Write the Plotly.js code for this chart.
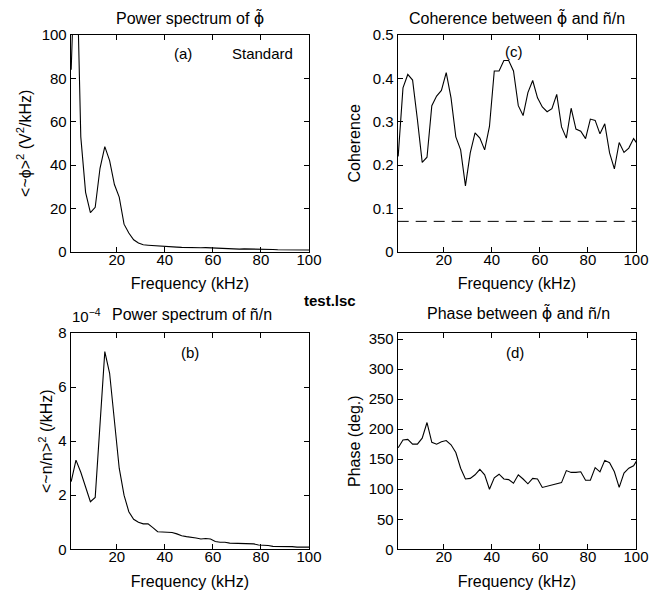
<!DOCTYPE html>
<html>
<head>
<meta charset="utf-8">
<script src="https://cdn.plot.ly/plotly-3.0.1.min.js"></script>
<style>html,body{margin:0;padding:0;background:#fff;}#chart{width:665px;height:596px;}</style>
</head>
<body>
<div id="chart"></div>
<script>
// Frequency bins (kHz)
const freq = [1,3,5,7,9,11,13,15,17,19,21,23,25,27,29,31,33,35,37,39,41,43,45,47,49,51,53,55,57,59,61,63,65,67,69,71,73,75,77,79,81,83,85,87,89,91,93,95,97,99,101];
// (a) Power spectrum of phi (V^2/kHz)
const phiPower = [84,150,53,27.4,18,20.5,38.5,48.5,42,31,25.2,12.7,8.6,5.5,4,3.2,3.0,2.8,2.7,2.6,2.4,2.2,2.1,2.0,1.9,1.8,1.8,1.8,1.9,1.8,1.5,1.4,1.4,1.3,1.3,1.2,1.3,1.3,1.2,1.1,1.1,1.0,1.0,0.9,0.9,0.9,0.8,0.8,0.8,0.8,0.8];
// (b) Power spectrum of n/n (units of 1e-4 /kHz)
const nPower = [2.5,3.3,2.85,2.34,1.76,1.92,4.62,7.31,6.51,4.84,3.0,2.0,1.39,1.11,1.0,0.94,0.94,0.8,0.65,0.64,0.64,0.62,0.57,0.5,0.47,0.45,0.42,0.38,0.40,0.38,0.29,0.26,0.26,0.23,0.22,0.21,0.2,0.2,0.2,0.16,0.16,0.14,0.11,0.11,0.12,0.11,0.1,0.08,0.07,0.08,0.08];
// (c) Coherence
const coherence = [0.22,0.378,0.409,0.396,0.305,0.206,0.218,0.337,0.359,0.372,0.413,0.355,0.265,0.235,0.152,0.228,0.274,0.262,0.235,0.289,0.417,0.417,0.441,0.441,0.417,0.337,0.314,0.367,0.395,0.355,0.334,0.323,0.330,0.363,0.288,0.262,0.331,0.283,0.278,0.261,0.306,0.303,0.272,0.295,0.228,0.191,0.252,0.229,0.239,0.261,0.245];
// Coherence significance level
const threshFreq = [0.8, 100];
const threshLevel = [0.07, 0.07];
// (d) Phase (deg.)
const phase = [169,182,183,175,175,185,211,178,175,179,181,174,161,135,117,118,124,133,124,100,119,125,117,116,110,124,117,109,118,117,103,105,106,109,111,131,128,128,129,115,115,136,129,148,144,129,103,127,135,139,152];

const xTicks = [20,40,60,80,100];
const yTicksA = [0,20,40,60,80,100];
const yTicksB = [0,2,4,6,8];
const yTicksC = [0,0.1,0.2,0.3,0.4,0.5];
const yTicksD = [0,50,100,150,200,250,300,350];

const F = 'Liberation Sans, Arial, Helvetica, sans-serif';
const W = 665, H = 596;
const px = v => v / W;
const py = v => 1 - v / H;
const PHI = '<span style="font-family:DejaVu Sans">ϕ̃</span>';

const line = {color:'#000', width:1.1};
const traces = [
  {x:freq, y:phiPower, xaxis:'x', yaxis:'y', mode:'lines', line:line},
  {x:freq, y:coherence, xaxis:'x2', yaxis:'y2', mode:'lines', line:line},
  {x:threshFreq, y:threshLevel, xaxis:'x2', yaxis:'y2', mode:'lines', line:{color:'#000', width:1, dash:'11px,7px'}},
  {x:freq, y:nPower, xaxis:'x3', yaxis:'y3', mode:'lines', line:line},
  {x:freq, y:phase, xaxis:'x4', yaxis:'y4', mode:'lines', line:line}
];

function ax(extra){
  return Object.assign({
    showline:true, linecolor:'#000', linewidth:1, mirror:'ticks',
    ticks:'inside', ticklen:5, tickwidth:1, tickcolor:'#000',
    showgrid:false, zeroline:false, fixedrange:true,
    tickfont:{family:F, size:15, color:'#000'}
  }, extra);
}
const xTitle = {text:'Frequency (kHz)', font:{family:F, size:16, color:'#000'}, standoff:11};
function xax(extra){
  return ax(Object.assign({range:[0.8,100], tickvals:xTicks, title:xTitle, ticklabelstandoff:-6}, extra));
}
const colL = [px(70.7), px(309)];
const colR = [px(397.7), px(636)];
const rowT = [py(251.7), py(35)];
const rowB = [py(549.3), py(333)];

function note(text, x, y, size, extra){
  return Object.assign({text:text, x:px(x), y:py(y), xref:'paper', yref:'paper',
    xanchor:'center', yanchor:'middle', showarrow:false,
    font:{family:F, size:size, color:'#000'}}, extra || {});
}

const layout = {
  width:W, height:H, margin:{l:0,r:0,t:0,b:0},
  paper_bgcolor:'#fff', plot_bgcolor:'#fff', showlegend:false,
  font:{family:F, color:'#000'},
  xaxis: xax({domain:colL, anchor:'y'}),
  yaxis: ax({domain:rowT, anchor:'x', range:[0,100], tickvals:yTicksA,
    title:{text:'<~ϕ><sup>2</sup> (V<sup>2</sup>/kHz)', font:{family:F, size:16, color:'#000'}, standoff:6}}),
  xaxis2: xax({domain:colR, anchor:'y2'}),
  yaxis2: ax({domain:rowT, anchor:'x2', range:[0,0.5], tickvals:yTicksC,
    title:{text:'Coherence', font:{family:F, size:16, color:'#000'}, standoff:8}}),
  xaxis3: xax({domain:colL, anchor:'y3'}),
  yaxis3: ax({domain:rowB, anchor:'x3', range:[0,8], tickvals:yTicksB,
    title:{text:'<~n/n><sup>2</sup> (/kHz)', font:{family:F, size:16, color:'#000'}, standoff:1}}),
  xaxis4: xax({domain:colR, anchor:'y4'}),
  yaxis4: ax({domain:rowB, anchor:'x4', range:[0,360], tickvals:yTicksD,
    title:{text:'Phase (deg.)', font:{family:F, size:16, color:'#000'}, standoff:4}}),
  annotations: [
    note('Power spectrum of ' + PHI, 190, 18, 16),
    note('Coherence between ' + PHI + ' and ñ/n', 517, 18, 16),
    note('Power spectrum of ñ/n', 192, 314, 16),
    note('Phase between ' + PHI + ' and ñ/n', 518, 313, 16),
    note('10<sup>−4</sup>', 70, 315, 15, {xanchor:'left'}),
    note('<b>test.lsc</b>', 330, 300, 15),
    note('(a)', 183, 53, 15),
    note('Standard', 262, 53, 15),
    note('(c)', 514, 52, 15),
    note('(b)', 190, 352, 15),
    note('(d)', 515, 352, 15)
  ]
};
Plotly.newPlot('chart', traces, layout, {staticPlot:true, displayModeBar:false});
</script>
</body>
</html>
